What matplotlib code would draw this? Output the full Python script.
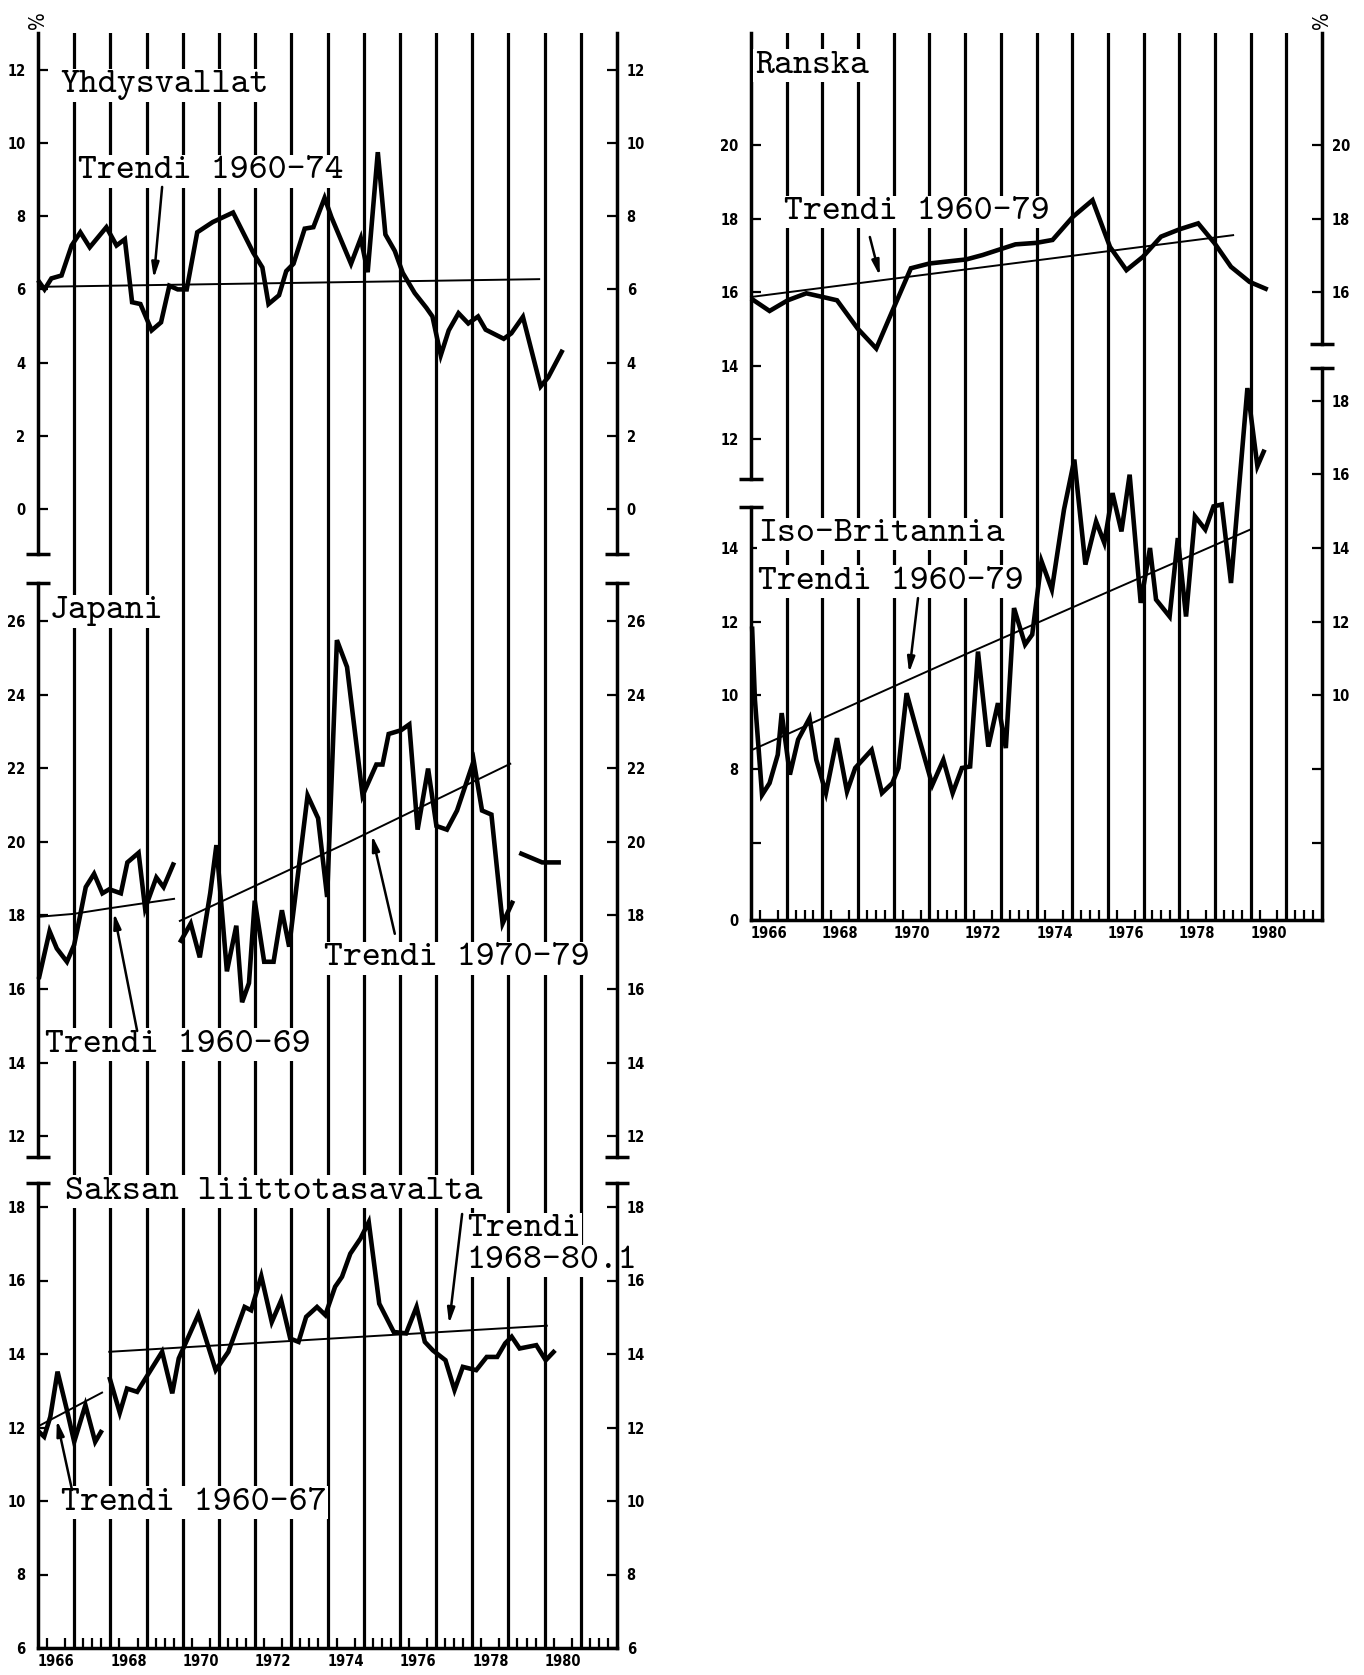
import matplotlib.pyplot as plt
from matplotlib.transforms import blended_transform_factory

# --- data (year, percent) ---
usa_t = [1966.0, 1966.18, 1966.37, 1966.65, 1966.93, 1967.17, 1967.43, 1967.89, 1968.17, 1968.4,
         1968.6, 1968.83, 1969.14, 1969.4, 1969.63, 1969.86, 1970.11, 1970.4, 1970.83, 1971.39,
         1971.95, 1972.2, 1972.37, 1972.66, 1972.86, 1973.06, 1973.37, 1973.61, 1973.92, 1974.11,
         1974.65, 1974.92, 1975.11, 1975.39, 1975.6, 1975.86, 1976.08, 1976.41, 1976.73, 1976.9,
         1977.13, 1977.35, 1977.62, 1977.89, 1978.16, 1978.37, 1978.87, 1979.08, 1979.4, 1979.89,
         1980.1, 1980.5]
usa_v = [6.25, 6.0, 6.3, 6.38, 7.2, 7.56, 7.15, 7.7, 7.2, 7.37,
         5.65, 5.6, 4.88, 5.1, 6.1, 6.0, 6.0, 7.56, 7.84, 8.1,
         7.0, 6.6, 5.6, 5.84, 6.5, 6.7, 7.66, 7.7, 8.5, 7.97,
         6.7, 7.4, 6.47, 9.75, 7.5, 7.05, 6.45, 5.9, 5.5, 5.26,
         4.2, 4.88, 5.35, 5.07, 5.26, 4.9, 4.65, 4.8, 5.25, 3.35,
         3.6, 4.35]
usa_trend_t = [1966.0, 1979.85]
usa_trend_v = [6.07, 6.28]

jp1_t = [1966.02, 1966.32, 1966.52, 1966.8, 1967.0, 1967.15, 1967.32, 1967.55, 1967.78, 1967.97,
         1968.29, 1968.47, 1968.78, 1968.96, 1969.27, 1969.47, 1969.76]
jp1_v = [16.27, 17.57, 17.1, 16.74, 17.2, 17.93, 18.77, 19.13, 18.6, 18.71,
         18.6, 19.44, 19.7, 18.19, 19.03, 18.77, 19.44]
jp2_t = [1969.92, 1970.22, 1970.47, 1970.76, 1970.93, 1971.22, 1971.48, 1971.64, 1971.83, 1971.99,
         1972.25, 1972.51, 1972.74, 1972.94, 1973.45, 1973.74, 1973.99, 1974.26, 1974.54, 1974.97,
         1975.35, 1975.52, 1975.69, 1976.03, 1976.26, 1976.49, 1976.78, 1977.01, 1977.3, 1977.58,
         1978.04, 1978.27, 1978.53, 1978.84, 1979.13]
jp2_v = [17.26, 17.78, 16.86, 18.61, 19.91, 16.48, 17.72, 15.64, 16.16, 18.4,
         16.74, 16.74, 18.14, 17.15, 21.26, 20.64, 18.5, 25.48, 24.75, 21.26,
         22.1, 22.1, 22.93, 23.03, 23.19, 20.33, 21.99, 20.43, 20.33, 20.85,
         22.2, 20.85, 20.74, 17.78, 18.4]
jp3_t = [1979.3, 1979.93, 1980.45]
jp3_v = [19.7, 19.44, 19.44]
jp_trend1_t = [1966.0, 1966.97, 1967.95, 1968.92, 1969.76]
jp_trend1_v = [17.96, 18.04, 18.19, 18.33, 18.45]
jp_trend2_t = [1969.92, 1974.5, 1979.05]
jp_trend2_v = [17.85, 19.95, 22.12]

de1_t = [1966.02, 1966.17, 1966.34, 1966.54, 1966.8, 1967.0, 1967.31, 1967.58, 1967.77]
de1_v = [11.89, 11.75, 12.29, 13.52, 12.47, 11.61, 12.61, 11.61, 11.93]
de2_t = [1967.97, 1968.26, 1968.46, 1968.74, 1969.43, 1969.71, 1969.89, 1970.43, 1970.91, 1971.26,
         1971.71, 1971.89, 1972.17, 1972.46, 1972.72, 1972.97, 1973.2, 1973.41, 1973.71, 1973.94,
         1974.21, 1974.4, 1974.63, 1974.91, 1975.14, 1975.43, 1975.83, 1976.17, 1976.46, 1976.69,
         1976.91, 1977.26, 1977.51, 1977.74, 1978.11, 1978.4, 1978.69, 1978.91, 1979.09, 1979.31,
         1979.77, 1980.03, 1980.29]
de2_v = [13.38, 12.4, 13.06, 12.97, 14.06, 12.93, 13.88, 15.07, 13.56, 14.06,
         15.28, 15.19, 16.12, 14.87, 15.46, 14.42, 14.33, 15.01, 15.28, 15.06,
         15.83, 16.1, 16.73, 17.14, 17.59, 15.37, 14.6, 14.56, 15.28, 14.33,
         14.1, 13.83, 13.02, 13.65, 13.56, 13.92, 13.92, 14.29, 14.47, 14.15,
         14.24, 13.83, 14.1]
de_trend1_t = [1966.02, 1967.77]
de_trend1_v = [12.04, 12.95]
de_trend2_t = [1967.97, 1980.06]
de_trend2_v = [14.06, 14.77]

fr_t = [1966.0, 1966.52, 1967.03, 1967.55, 1968.01, 1968.41, 1968.99, 1969.51, 1969.97, 1970.48,
        1971.0, 1971.46, 1972.03, 1972.49, 1972.9, 1973.41, 1973.99, 1974.45, 1975.02, 1975.57,
        1976.06, 1976.52, 1976.98, 1977.49, 1978.01, 1978.53, 1978.99, 1979.45, 1979.97, 1980.48]
fr_v = [15.83, 15.49, 15.78, 15.97, 15.87, 15.78, 15.01, 14.47, 15.51, 16.65,
        16.78, 16.83, 16.89, 17.01, 17.14, 17.3, 17.34, 17.42, 18.05, 18.5,
        17.23, 16.6, 16.96, 17.51, 17.71, 17.87, 17.33, 16.69, 16.28, 16.07]
fr_trend_t = [1966.0, 1979.51]
fr_trend_v = [15.87, 17.55]

uk_t = [1966.03, 1966.11, 1966.31, 1966.52, 1966.75, 1966.86, 1967.09, 1967.32, 1967.64, 1967.83,
        1968.1, 1968.41, 1968.69, 1968.92, 1969.38, 1969.67, 1969.96, 1970.13, 1970.36, 1970.64,
        1971.08, 1971.39, 1971.65, 1971.91, 1972.14, 1972.36, 1972.65, 1972.92, 1973.14, 1973.37,
        1973.68, 1973.88, 1974.14, 1974.43, 1974.77, 1975.06, 1975.37, 1975.67, 1975.9, 1976.13,
        1976.38, 1976.61, 1976.92, 1977.18, 1977.35, 1977.73, 1977.96, 1978.19, 1978.44, 1978.73,
        1978.96, 1979.19, 1979.45, 1979.91, 1980.19, 1980.39]
uk_v = [11.87, 9.88, 7.3, 7.62, 8.39, 9.52, 7.85, 8.8, 9.38, 8.25,
        7.35, 8.84, 7.39, 8.03, 8.52, 7.35, 7.62, 8.03, 10.06, 9.07,
        7.57, 8.25, 7.35, 8.03, 8.07, 11.19, 8.61, 9.79, 8.57, 12.37,
        11.38, 11.65, 13.64, 12.87, 15.04, 16.4, 13.55, 14.72, 14.14, 15.49,
        14.45, 15.99, 12.51, 14.0, 12.6, 12.14, 14.27, 12.14, 14.86, 14.5,
        15.13, 15.18, 13.05, 18.34, 16.22, 16.67]
uk_trend_t = [1966.03, 1972.02, 1979.99]
uk_trend_v = [8.52, 11.12, 14.5]

year_labels = ['1966', '1968', '1970', '1972', '1974', '1976', '1978', '1980']

# --- layout (pixels of the 1364x1675 page) ---
W, H = 1364, 1675
LW_GRID, LW_SPINE, LW_DATA, LW_TREND = 2.3, 2.5, 3.3, 1.4

plt.rcParams['font.family'] = ['Liberation Sans Narrow', 'DejaVu Sans']
plt.rcParams['font.weight'] = 'bold'
plt.rcParams['font.stretch'] = 'condensed'
TYPE = dict(family=['cmtt10', 'DejaVu Sans Mono'], size=26, weight='normal')

fig = plt.figure(figsize=(W / 100, H / 100), dpi=100)


def px_axes(x0, x1, ptop, pbot):
    ax = fig.add_axes([x0 / W, 1 - pbot / H, (x1 - x0) / W, (pbot - ptop) / H])
    ax.set_xlim(1966, 1982)
    ax.patch.set_alpha(0)
    for s in ax.spines.values():
        s.set_visible(False)
    return ax


def background(x0, x1, ptop, pbot):
    bg = px_axes(x0, x1, ptop, pbot)
    bg.set_ylim(0, 1)
    bg.set_yticks([])
    for yr in range(1967, 1982):
        bg.axvline(yr, color='k', lw=LW_GRID)
    bg.spines['bottom'].set_visible(True)
    bg.spines['bottom'].set_linewidth(LW_SPINE)
    bg.set_xticks([int(y) + 0.5 for y in year_labels])
    bg.set_xticklabels(year_labels, fontsize=10.5)
    bg.set_xticks([y + q for y in range(1966, 1982) for q in (0.25, 0.5, 0.75)], minor=True)
    bg.tick_params(axis='x', which='major', length=0, pad=4)
    bg.tick_params(axis='x', which='minor', direction='in', length=7, width=1.6)
    return bg


def panel(x0, x1, ptop, pbot, ref_v, ref_px, ppu):
    ax = px_axes(x0, x1, ptop, pbot)
    ax.set_ylim(ref_v - (pbot - ref_px) / ppu, ref_v + (ref_px - ptop) / ppu)
    ax.set_xticks([])
    axr = ax.twinx()
    axr.set_ylim(ax.get_ylim())
    axr.patch.set_alpha(0)
    for s in axr.spines.values():
        s.set_visible(False)
    ax.tick_params(axis='y', direction='in', length=7, width=1.6, labelsize=10.5, pad=9)
    axr.tick_params(axis='y', direction='in', length=7, width=1.6, labelsize=10.5, pad=7)
    return ax, axr


def spine(ax, side, lo, hi, bar_lo=True, bar_hi=False):
    sp = ax.spines[side]
    sp.set_visible(True)
    sp.set_linewidth(LW_SPINE)
    sp.set_bounds(lo, hi)
    xs = 0 if side == 'left' else 1
    tr = blended_transform_factory(ax.transAxes, ax.transData)
    hw = 12 / (ax.get_position().width * W)
    for flag, yv in ((bar_lo, lo), (bar_hi, hi)):
        if flag:
            ax.plot([xs - hw, xs + hw], [yv, yv], color='k', lw=LW_SPINE,
                    transform=tr, clip_on=False, solid_capstyle='butt')


def series(ax, t, v):
    ax.plot(t, v, color='k', lw=LW_DATA, zorder=5, clip_on=False,
            solid_joinstyle='miter', solid_capstyle='butt')


def trend(ax, t, v):
    ax.plot(t, v, color='k', lw=LW_TREND, zorder=4, clip_on=False)


def label(ax, x, y, s):
    ax.text(x, y, s, ha='left', va='center', zorder=3, fontdict=TYPE,
            bbox=dict(facecolor='white', edgecolor='none', pad=1))


def arrow(ax, tail, head):
    ax.annotate('', xy=head, xytext=tail, zorder=4,
                arrowprops=dict(arrowstyle='-|>,head_length=0.9,head_width=0.22',
                                color='k', lw=1.8, shrinkA=0, shrinkB=0))


def percent(ax, xpos):
    ax.annotate('%', xy=(xpos, 1), xycoords='axes fraction', xytext=(0, 3),
                textcoords='offset points', rotation=90, ha='center', va='bottom',
                fontsize=15, fontweight='normal', family='DejaVu Sans')


# ================= left column =================
LX0, LX1 = 38, 617
bgl = background(LX0, LX1, 33, 1648)
percent(bgl, 0)

# Yhdysvallat
ax, axr = panel(LX0, LX1, 33, 554, 0, 509, 36.6)
lo, hi = ax.get_ylim()
spine(ax, 'left', lo, hi)
spine(axr, 'right', lo, hi)
ax.set_yticks(range(0, 13, 2))
axr.set_yticks(range(0, 13, 2))
trend(ax, usa_trend_t, usa_trend_v)
series(ax, usa_t, usa_v)
label(ax, 1966.61, 11.58, 'Yhdysvallat')
label(ax, 1967.11, 9.23, 'Trendi 1960-74')
arrow(ax, (1969.43, 8.8), (1969.2, 6.3))

# Japani
ax, axr = panel(LX0, LX1, 583, 1157, 26, 621, 36.8)
lo, hi = ax.get_ylim()
spine(ax, 'left', lo, hi, bar_hi=True)
spine(axr, 'right', lo, hi, bar_hi=True)
ax.set_yticks(range(12, 27, 2))
axr.set_yticks(range(12, 27, 2))
trend(ax, jp_trend1_t, jp_trend1_v)
trend(ax, jp_trend2_t, jp_trend2_v)
series(ax, jp1_t, jp1_v)
series(ax, jp2_t, jp2_v)
series(ax, jp3_t, jp3_v)
label(ax, 1966.33, 26.27, 'Japani')
label(ax, 1966.19, 14.48, 'Trendi 1960-69')
label(ax, 1973.9, 16.84, 'Trendi 1970-79')
arrow(ax, (1968.74, 14.86), (1968.1, 18.07))
arrow(ax, (1975.86, 17.5), (1975.23, 20.18))

# Saksan liittotasavalta
ax, axr = panel(LX0, LX1, 1183, 1648, 18, 1207, 36.75)
lo, hi = ax.get_ylim()
spine(ax, 'left', lo, hi, bar_lo=False, bar_hi=True)
spine(axr, 'right', lo, hi, bar_lo=False, bar_hi=True)
ax.set_yticks(range(6, 19, 2))
axr.set_yticks(range(6, 19, 2))
trend(ax, de_trend1_t, de_trend1_v)
trend(ax, de_trend2_t, de_trend2_v)
series(ax, de1_t, de1_v)
series(ax, de2_t, de2_v)
label(ax, 1966.75, 18.41, 'Saksan liittotasavalta')
label(ax, 1977.85, 17.4, 'Trendi')
label(ax, 1977.85, 16.53, '1968-80.1')
label(ax, 1966.64, 9.95, 'Trendi 1960-67')
arrow(ax, (1977.72, 17.81), (1977.36, 14.82))
arrow(ax, (1966.94, 10.3), (1966.52, 12.2))

# ================= right column =================
RX0, RX1 = 751, 1322
bgr = background(RX0, RX1, 33, 920)
percent(bgr, 1)

# Ranska
ax, axr = panel(RX0, RX1, 33, 479, 20, 145, 36.8)
lo, hi = ax.get_ylim()
spine(ax, 'left', lo, hi)
r_lo = 20 - (344 - 145) / 36.8
spine(axr, 'right', r_lo, hi)
ax.set_yticks(range(12, 21, 2))
axr.set_yticks(range(16, 21, 2))
trend(ax, fr_trend_t, fr_trend_v)
series(ax, fr_t, fr_v)
label(ax, 1966.11, 22.15, 'Ranska')
label(ax, 1966.92, 18.18, 'Trendi 1960-79')
arrow(ax, (1969.33, 17.5), (1969.61, 16.44))

# Iso-Britannia
ax, axr = panel(RX0, RX1, 368, 920, 14, 548, 36.85)
lo, hi = ax.get_ylim()
l_hi = 14 + (548 - 507) / 36.85
spine(ax, 'left', lo, l_hi, bar_lo=False, bar_hi=True)
spine(axr, 'right', lo, hi, bar_lo=False, bar_hi=True)
ax.set_yticks([lo, 6, 8, 10, 12, 14])
ax.set_yticklabels(['0', '', '8', '10', '12', '14'])
axr.set_yticks([6, 8, 10, 12, 14, 16, 18])
axr.set_yticklabels(['', '', '10', '12', '14', '16', '18'])
trend(ax, uk_trend_t, uk_trend_v)
series(ax, uk_t, uk_v)
label(ax, 1966.2, 14.38, 'Iso-Britannia')
label(ax, 1966.2, 13.08, 'Trendi 1960-79')
arrow(ax, (1970.68, 12.64), (1970.43, 10.61))

fig.savefig('out.png', dpi=100, facecolor='white')
